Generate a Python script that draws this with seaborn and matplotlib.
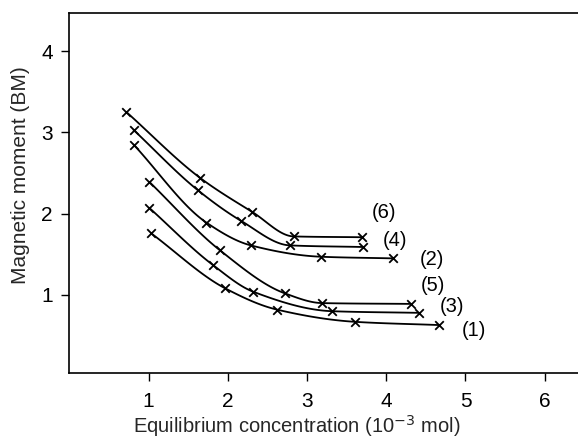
import numpy as np
import pandas as pd
import matplotlib
matplotlib.use("Agg")
import matplotlib.pyplot as plt
import seaborn as sns

# Equilibrium concentration (10^-3 mol) and magnetic moment (BM) for each run
x1 = [1.03, 1.97, 2.62, 3.60, 4.66]
y1 = [1.76, 1.08, 0.82, 0.67, 0.63]
x2 = [0.81, 1.73, 2.29, 3.18, 4.08]
y2 = [2.85, 1.89, 1.61, 1.47, 1.45]
x3 = [1.01, 1.81, 2.32, 3.32, 4.41]
y3 = [2.07, 1.37, 1.04, 0.80, 0.78]
x4 = [0.81, 1.62, 2.17, 2.78, 3.70]
y4 = [3.03, 2.29, 1.91, 1.61, 1.59]
x5 = [1.01, 1.90, 2.72, 3.19, 4.31]
y5 = [2.39, 1.55, 1.02, 0.90, 0.89]
x6 = [0.72, 1.65, 2.31, 2.83, 3.69]
y6 = [3.25, 2.44, 2.02, 1.72, 1.71]

labels = ["(1)", "(2)", "(3)", "(4)", "(5)", "(6)"]
label_x = [4.95, 4.42, 4.67, 3.95, 4.43, 3.82]
label_y = [0.56, 1.44, 0.86, 1.67, 1.12, 2.01]

xs = [x1, x2, x3, x4, x5, x6]
ys = [y1, y2, y3, y4, y5, y6]


def pchip(x, y, n=120):
    """Shape-preserving cubic through the measured points, for a smooth trace."""
    x = np.asarray(x, float)
    y = np.asarray(y, float)
    h = np.diff(x)
    d = np.diff(y) / h
    m = np.zeros_like(y)
    for k in range(1, len(x) - 1):
        if d[k - 1] * d[k] > 0:
            w1 = 2 * h[k] + h[k - 1]
            w2 = h[k] + 2 * h[k - 1]
            m[k] = (w1 + w2) / (w1 / d[k - 1] + w2 / d[k])
    m[0] = d[0]
    m[-1] = d[-1]
    t = np.linspace(x[0], x[-1], n)
    idx = np.clip(np.searchsorted(x, t) - 1, 0, len(x) - 2)
    hh = h[idx]
    s = (t - x[idx]) / hh
    h00 = 2 * s**3 - 3 * s**2 + 1
    h10 = s**3 - 2 * s**2 + s
    h01 = -2 * s**3 + 3 * s**2
    h11 = s**3 - s**2
    v = h00 * y[idx] + h10 * hh * m[idx] + h01 * y[idx + 1] + h11 * hh * m[idx + 1]
    return t, v


sns.set_theme(style="ticks")
plt.rcParams["font.family"] = ["Liberation Sans", "DejaVu Sans"]

fig = plt.figure(figsize=(5.78, 4.43), dpi=100)
ax = fig.add_axes([0.12, 0.158, 0.88, 0.813])

curves = []
points = []
for lab, x, y in zip(labels, xs, ys):
    t, v = pchip(x, y)
    curves.append(pd.DataFrame({"conc": t, "moment": v, "run": lab}))
    points.append(pd.DataFrame({"conc": x, "moment": y, "run": lab}))
curves = pd.concat(curves, ignore_index=True)
points = pd.concat(points, ignore_index=True)

sns.lineplot(data=curves, x="conc", y="moment", units="run", estimator=None,
             color="black", lw=1.3, sort=False, ax=ax)
sns.scatterplot(data=points, x="conc", y="moment", marker="x", color="black",
                s=38, linewidth=1.3, ax=ax)

for lab, lx, ly in zip(labels, label_x, label_y):
    ax.text(lx, ly, lab, fontsize=14.5, ha="left", va="center", color="black")

ax.set_xlim(0, 6.42)
ax.set_ylim(0.04, 4.47)
ax.set_xticks([1, 2, 3, 4, 5, 6])
ax.set_yticks([1, 2, 3, 4])
ax.tick_params(axis="both", direction="out", length=6, width=1.0,
               labelsize=15, colors="black")
ax.tick_params(axis="x", pad=8)
ax.tick_params(axis="y", pad=6)

for side in ["left", "bottom", "top"]:
    ax.spines[side].set_visible(True)
    ax.spines[side].set_linewidth(1.2)
    ax.spines[side].set_color("black")
ax.spines["right"].set_visible(False)

ax.set_xlabel("Equilibrium concentration (10$^{-3}$ mol)", fontsize=14.5)
ax.set_ylabel("Magnetic moment (BM)", fontsize=15)
ax.xaxis.set_label_coords(0.447, -0.11)
ax.yaxis.set_label_coords(-0.078, 0.55)

fig.savefig("out.png", dpi=100)
